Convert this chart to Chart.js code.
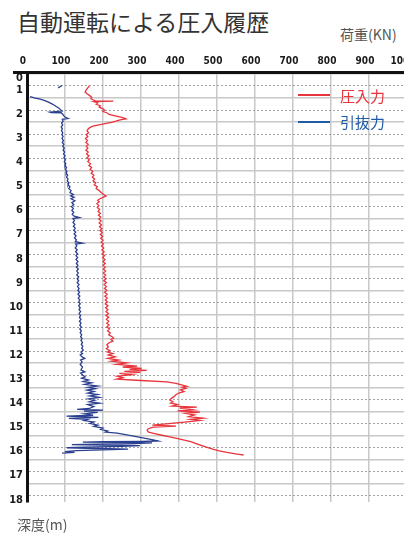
<!DOCTYPE html>
<html lang="ja">
<head>
<meta charset="utf-8">
<title>自動運転による圧入履歴</title>
<script src="https://cdn.jsdelivr.net/npm/chart.js@4.4.1/dist/chart.umd.min.js"></script>
<style>
  html, body { margin: 0; padding: 0; background: #fff; width: 404px; height: 538px; overflow: hidden; }
  body { position: relative; font-family: 'Noto Sans CJK JP', 'Noto Sans', sans-serif; }
  .title { position: absolute; left: 17px; top: 5px; font-size: 23px; line-height: 32px; color: #333; white-space: nowrap; }
  .unit-x { position: absolute; left: 340px; top: 24px; font-size: 14px; line-height: 20px; color: #555; white-space: nowrap; }
  .unit-y { position: absolute; left: 17px; top: 514px; font-size: 14px; line-height: 20px; color: #555; white-space: nowrap; }
  #wrap { position: absolute; left: 0; top: 50px; width: 440px; height: 467px; }
  .top-rule { position: absolute; left: 13px; top: 70.5px; width: 16px; height: 3px; background: #111; }
  .leg-line { position: absolute; left: 298px; width: 32px; height: 1.5px; }
  .leg-text { position: absolute; left: 340px; font-size: 15px; line-height: 20px; white-space: nowrap; }
</style>
</head>
<body>
<div class="title">自動運転による圧入履歴</div>
<div class="unit-x">荷重(KN)</div>
<div id="wrap"><canvas id="chart"></canvas></div>
<div class="top-rule"></div>
<div class="leg-line" style="top:94px;background:#e8343c"></div>
<div class="leg-text" style="top:86px;color:#e8343c">圧入力</div>
<div class="leg-line" style="top:121px;background:#1f5aa6"></div>
<div class="leg-text" style="top:112px;color:#1f5aa6">引抜力</div>
<div class="unit-y">深度(m)</div>

<script>
// --- data ---
// depth ticks (m) and load range (kN)
const depthTicks = [1, 2, 3, 4, 5, 6, 7, 8, 9, 10, 11, 12, 13, 14, 15, 16, 17, 18];
const loadMin = 0, loadMax = 1000, loadStep = 100;

// 圧入力 (press-in force)
const pressDepth = [
  1.00, 1.08, 1.16, 1.25, 1.33, 1.40, 1.46, 1.52, 1.58, 1.62, 1.63, 1.65, 1.70, 1.76, 1.82, 1.88, 1.94, 2.00,
  2.06, 2.12, 2.18, 2.24, 2.29, 2.34, 2.37, 2.41, 2.46, 2.51, 2.56, 2.61, 2.66, 2.72, 2.78, 2.86, 2.94, 3.02,
  3.10, 3.18, 3.26, 3.34, 3.42, 3.50, 3.58, 3.66, 3.74, 3.82, 3.90, 3.98, 4.06, 4.14, 4.22, 4.30, 4.38, 4.46,
  4.54, 4.62, 4.70, 4.78, 4.86, 4.94, 5.02, 5.10, 5.18, 5.26, 5.34, 5.42, 5.50, 5.56, 5.62, 5.68, 5.74, 5.80,
  5.88, 5.96, 6.04, 6.12, 6.20, 6.28, 6.36, 6.44, 6.52, 6.60, 6.68, 6.76, 6.84, 6.92, 7.00, 7.08, 7.16, 7.24,
  7.32, 7.40, 7.48, 7.56, 7.64, 7.72, 7.80, 7.88, 7.96, 8.04, 8.12, 8.20, 8.28, 8.36, 8.44, 8.52, 8.60, 8.68,
  8.76, 8.84, 8.92, 9.00, 9.08, 9.16, 9.24, 9.32, 9.40, 9.48, 9.56, 9.64, 9.72, 9.80, 9.88, 9.96, 10.04, 10.12,
  10.20, 10.28, 10.36, 10.44, 10.52, 10.60, 10.68, 10.76, 10.84, 10.92, 11.00, 11.08, 11.16, 11.24, 11.32, 11.40,
  11.46, 11.52, 11.58, 11.66, 11.74, 11.82, 11.90, 11.98, 12.04, 12.10, 12.16, 12.24, 12.30, 12.37, 12.42, 12.49,
  12.55, 12.62, 12.66, 12.72, 12.76, 12.80, 12.84, 12.88, 12.92, 12.98, 13.04, 13.10, 13.16, 13.22, 13.28, 13.34,
  13.41, 13.46, 13.50, 13.55, 13.61, 13.68, 13.74, 13.82, 13.90, 13.96, 14.03, 14.10, 14.15, 14.22, 14.28, 14.32,
  14.36, 14.44, 14.48, 14.53, 14.58, 14.65, 14.72, 14.78, 14.83, 14.88, 14.94, 15.00, 15.05, 15.07, 15.11, 15.15,
  15.22, 15.29, 15.36, 15.42, 15.48, 15.55, 15.62, 15.69, 15.76, 15.84, 15.92, 16.00, 16.08, 16.14, 16.20, 16.25,
  16.28, 16.31
];
const pressLoad = [
  164, 160, 156, 153, 159, 165, 170, 168, 175, 180, 227, 176, 186, 182, 193, 190, 199, 204,
  200, 211, 216, 232, 247, 258, 261, 245, 234, 222, 205, 190, 176, 166, 161, 158, 162, 156,
  160, 154, 159, 155, 161, 156, 160, 155, 161, 157, 163, 158, 164, 160, 167, 163, 170, 166,
  173, 169, 176, 172, 178, 174, 181, 177, 185, 182, 190, 195, 202, 208, 200, 192, 186, 190,
  184, 189, 185, 191, 187, 193, 188, 194, 189, 195, 190, 196, 191, 197, 192, 198, 193, 199,
  194, 200, 195, 201, 196, 202, 197, 203, 198, 204, 199, 205, 200, 206, 200, 206, 201, 207,
  201, 207, 202, 208, 202, 209, 203, 209, 204, 210, 204, 211, 205, 211, 206, 212, 206, 213,
  207, 213, 208, 214, 208, 215, 209, 215, 210, 216, 210, 217, 212, 219, 215, 224,
  228, 221, 226, 215, 210, 214, 209, 218, 212, 226, 214, 232, 213, 241, 222, 262,
  236, 290, 252, 302, 270, 315, 256, 298, 243, 276, 238, 252, 236, 300, 368, 392,
  409, 421, 408, 418, 404, 413, 399, 391, 386, 380, 376, 384, 378, 396, 382, 447,
  402, 438, 396, 455, 417, 441, 426, 463, 431, 455, 421, 380, 345, 330, 392, 332,
  319, 316, 320, 336, 352, 372, 394, 414, 431, 445, 460, 476, 491, 506, 526, 545,
  558, 570
];

// 引抜力 (pull-out force); null = break in the trace
const pullDepth = [
  1.08, 0.98, null,
  1.44, 1.50, 1.55, 1.60, 1.66, 1.72, 1.79, 1.86, 1.92, 1.98, 2.04, 2.08, 2.10, 2.11, 2.17, 2.24,
  2.30, 2.35, 2.38, 2.46, 2.54, 2.62, 2.70, 2.78, 2.86, 2.94, 3.02, 3.10, 3.18, 3.26, 3.34, 3.42,
  3.50, 3.58, 3.66, 3.74, 3.82, 3.90, 3.98, 4.06, 4.14, 4.22, 4.30, 4.38, 4.46, 4.54, 4.62, 4.70,
  4.78, 4.86, 4.94, 5.02, 5.10, 5.18, 5.26, 5.34, 5.42, 5.50, 5.56, 5.62, 5.68, 5.76, 5.84, 5.92,
  6.00, 6.08, 6.16, 6.24, 6.32, 6.40, 6.46, 6.50, 6.58, 6.66, 6.74, 6.82, 6.90, 6.98, 7.06, 7.14,
  7.22, 7.30, 7.38, 7.46, 7.52, 7.56, 7.64, 7.72, 7.80, 7.88, 7.96, 8.04, 8.12, 8.20, 8.28, 8.36,
  8.44, 8.52, 8.60, 8.68, 8.76, 8.84, 8.92, 9.00, 9.08, 9.16, 9.24, 9.32, 9.40, 9.48, 9.56, 9.64,
  9.72, 9.80, 9.88, 9.96, 10.04, 10.12, 10.20, 10.28, 10.36, 10.44, 10.52, 10.60, 10.68, 10.76, 10.84, 10.92,
  11.00, 11.08, 11.16, 11.24, 11.32, 11.40, 11.48, 11.56, 11.64, 11.72, 11.80, 11.88, 11.96, 12.04, 12.10, 12.16,
  12.24, 12.30, 12.37, 12.45, 12.55, 12.66, 12.78, 12.86, 12.91, 13.00, 13.07, 13.12, 13.20, 13.26, 13.32, 13.38,
  13.45, 13.50, 13.56, 13.62, 13.68, 13.74, 13.80, 13.86, 13.92, 13.98, 14.04, 14.10, 14.16, 14.22, 14.30, 14.38,
  14.42, 14.45, 14.49, 14.54, 14.60, 14.66, 14.70, 14.75, 14.79, 14.83, 14.88, 14.94, 15.00, 15.07, 15.12, 15.19,
  15.25, 15.31, 15.36, 15.40, 15.50, 15.60, 15.68, 15.73, 15.75, 15.76, 15.78, 15.79, 15.81, 15.84, 15.86, 15.88,
  15.90, 15.92, 15.95, 15.98, 16.01, 16.04, 16.07, 16.10, 16.13, 16.17, 16.20, 16.23
];
const pullLoad = [
  82, 92, null,
  8, 22, 35, 45, 55, 63, 71, 78, 84, 88, 92, 60, 64, 90, 94, 97,
  101, 108, 93, 95, 91, 94, 90, 93, 91, 94, 92, 95, 92, 96, 93, 97,
  94, 98, 95, 99, 96, 100, 97, 101, 98, 102, 100, 104, 101, 105, 103, 107,
  104, 108, 106, 110, 108, 113, 110, 116, 113, 122, 115, 124, 116, 126, 118, 123,
  117, 122, 118, 123, 119, 124, 138, 121, 125, 121, 126, 122, 127, 123, 128, 124,
  129, 125, 130, 127, 146, 128, 131, 127, 132, 128, 133, 129, 133, 129, 134, 130,
  134, 130, 135, 131, 135, 131, 136, 132, 136, 132, 137, 133, 137, 134, 138, 134,
  139, 135, 139, 136, 140, 136, 140, 137, 141, 137, 141, 138, 142, 138, 142, 139,
  143, 139, 143, 140, 144, 141, 145, 142, 146, 143, 147, 144, 148, 142, 146, 140,
  145, 152, 141, 145, 140, 146, 142, 152, 141, 147, 153, 144, 162, 148, 170, 152,
  186, 160, 180, 158, 176, 160, 186, 165, 190, 162, 178, 164, 191, 160, 176, 164,
  132, 200, 150, 186, 150, 174, 104, 188, 110, 160, 150, 176, 165, 186, 176, 200,
  194, 212, 206, 237, 270, 305, 332, 345, 300, 200, 147, 240, 329, 280, 180, 118,
  200, 297, 250, 150, 105, 190, 266, 200, 130, 100, 125, 92
];

const pressColor = '#e8343c';
const pullColor = '#2a3f8f';

const DEPTH_TOP = 0.42, DEPTH_BOTTOM = 18.26;

const toPoints = (xs, ys) => xs.map((x, i) => ({ x: x, y: ys[i] }));
const isHalf = v => Math.abs(v - Math.round(v)) > 0.01;

const tickFont = { family: "'Liberation Sans Narrow', 'DejaVu Sans Condensed', 'Arial Narrow', sans-serif", weight: 'bold' };

new Chart(document.getElementById('chart'), {
  type: 'line',
  data: {
    datasets: [
      {
        label: '圧入力',
        data: toPoints(pressLoad, pressDepth),
        borderColor: pressColor,
        borderWidth: 1.3,
        pointRadius: 0,
        tension: 0,
        fill: false
      },
      {
        label: '引抜力',
        data: toPoints(pullLoad, pullDepth),
        borderColor: pullColor,
        borderWidth: 1.3,
        pointRadius: 0,
        tension: 0,
        fill: false,
        spanGaps: false
      }
    ]
  },
  options: {
    responsive: true,
    maintainAspectRatio: false,
    animation: false,
    layout: { padding: { left: 0, top: 0, right: 33, bottom: 15 } },
    plugins: { legend: { display: false }, tooltip: { enabled: false } },
    scales: {
      x: {
        type: 'linear',
        position: 'top',
        min: loadMin,
        max: loadMax,
        afterFit: s => { s.height = 22; },
        ticks: {
          stepSize: loadStep,
          maxRotation: 0,
          autoSkip: false,
          padding: 5,
          labelOffset: -4,
          color: '#1a1a1a',
          font: { ...tickFont, size: 10 },
          callback: v => String(v)
        },
        grid: { color: '#c8c8c8', lineWidth: 1.5, drawTicks: false },
        border: { display: true, color: '#111', width: 3 }
      },
      y: {
        type: 'linear',
        position: 'left',
        reverse: true,
        min: DEPTH_TOP,
        max: DEPTH_BOTTOM,
        afterFit: s => { s.width = 27; },
        // integer depths get dotted lines + labels, half metres get solid lines
        afterBuildTicks: s => {
          const vals = [0.5];
          depthTicks.forEach(v => { vals.push(v); if (v + 0.5 < DEPTH_BOTTOM) vals.push(v + 0.5); });
          s.ticks = vals.map(v => ({ value: v }));
        },
        ticks: {
          padding: 4,
          autoSkip: false,
          labelOffset: 4,
          color: '#1a1a1a',
          font: { ...tickFont, size: 11 },
          callback: v => (v < 1 ? '0' : isHalf(v) ? '' : String(v))
        },
        grid: {
          drawTicks: false,
          lineWidth: c => (c.tick && isHalf(c.tick.value) ? 1.5 : 1),
          color: c => (c.tick && isHalf(c.tick.value) ? '#c8c8c8' : '#a2a2a2')
        },
        border: {
          display: true,
          color: '#111',
          width: 3,
          dash: c => (c.tick && !isHalf(c.tick.value) ? [2, 2] : [])
        }
      }
    }
  }
});
</script>
</body>
</html>
